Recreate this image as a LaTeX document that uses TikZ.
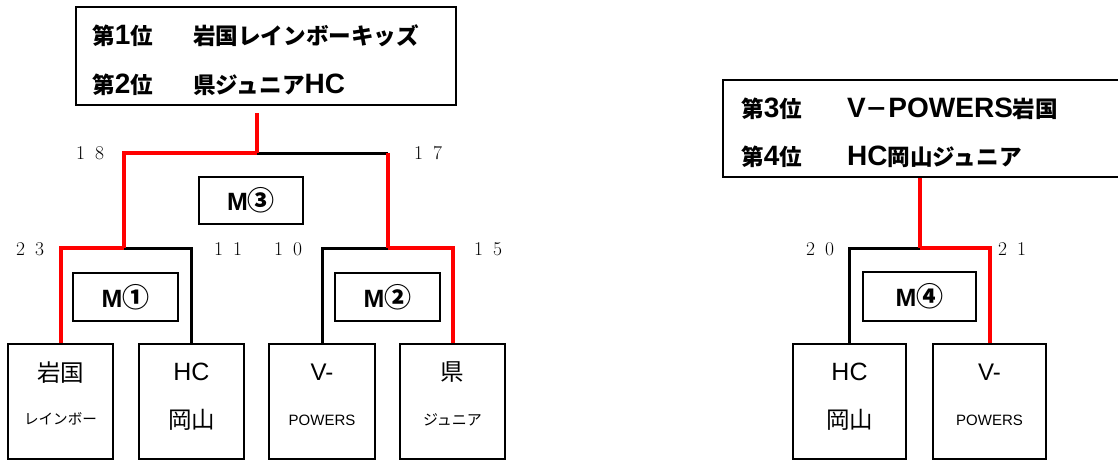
\documentclass[tikz,border=0pt]{standalone}
\usepackage{fontspec}
\newfontfamily\jp{Noto Sans CJK JP}
\newfontfamily\lat{Liberation Sans}
\newcommand\scorenum[2]{\makebox[19pt]{#1}\makebox[19pt]{#2}}
\newcommand\wlat[1]{{\lat\bfseries\fontsize{28}{30}\selectfont #1}}
\newcommand\mlat[1]{{\lat\bfseries\fontsize{25}{28}\selectfont #1}}
\begin{document}
\begin{tikzpicture}[x=1pt,y=-1pt,
  win/.style={line width=4pt,red},
  lose/.style={line width=3pt,black},
  rankbox/.style={draw,line width=2pt,inner sep=0pt},
  matchbox/.style={draw,line width=1.5pt,minimum height=48pt,inner sep=0pt,
    font=\jp\bfseries\fontsize{27}{28}\selectfont},
  teambox/.style={draw,line width=1.5pt,minimum height=115pt,inner sep=0pt},
  ranktext/.style={anchor=west,inner sep=0pt,font=\jp\bfseries\fontsize{22.6}{26}\selectfont},
  big/.style={inner sep=0pt,font=\jp\fontsize{23.5}{26}\selectfont},
  small/.style={inner sep=0pt,font=\jp\fontsize{14.6}{16}\selectfont},
  score/.style={inner sep=0pt,font=\fontsize{19.5}{22}\selectfont}]
  \clip (0,0) rectangle (1118,460);

  % ranking boxes
  \node[rankbox,minimum width=380pt,minimum height=98pt] (rank12) at (266,56) {};
  \node[ranktext] (r1) at (92,36) {\makebox[101pt][l]{第\wlat{1}位}岩国レインボーキッズ};
  \node[ranktext] (r2) at (92,85) {\makebox[101pt][l]{第\wlat{2}位}県ジュニア\wlat{HC}};
  \node[rankbox,minimum width=402pt,minimum height=97pt] (rank34) at (924,128.5) {};
  \node[ranktext] (r3) at (741,108.5) {\makebox[106pt][l]{第\wlat{3}位}\wlat{V}－\wlat{POWERS}岩国};
  \node[ranktext] (r4) at (741,156.5) {\makebox[106pt][l]{第\wlat{4}位}\wlat{HC}岡山ジュニア};

  % teams
  \node[teambox,minimum width=105pt] (t1) at (60.5,401.5) {};
  \node[teambox,minimum width=105pt] (t2) at (191.5,401.5) {};
  \node[teambox,minimum width=106pt] (t3) at (322,401.5) {};
  \node[teambox,minimum width=105pt] (t4) at (452.5,401.5) {};
  \node[teambox,minimum width=113pt] (t5) at (849.5,401.5) {};
  \node[teambox,minimum width=113pt] (t6) at (989.5,401.5) {};

  \node[big] (t1a) at (60.5,372.5) {岩国};
  \node[small] (t1b) at (60.5,418.5) {レインボー};
  \node[big,font=\lat\fontsize{25}{28}\selectfont] (t2a) at (191.5,372) {HC};
  \node[big] (t2b) at (191.5,420) {岡山};
  \node[big,font=\lat\fontsize{24}{28}\selectfont] (t3a) at (322,372) {V-};
  \node[small,font=\lat\fontsize{15}{18}\selectfont] (t3b) at (322,420) {POWERS};
  \node[big] (t4a) at (452.5,372) {県};
  \node[small,font=\jp\fontsize{15}{16}\selectfont] (t4b) at (452.5,420) {ジュニア};
  \node[big,font=\lat\fontsize{25}{28}\selectfont] (t5a) at (849.5,372) {HC};
  \node[big] (t5b) at (849.5,420) {岡山};
  \node[big,font=\lat\fontsize{24}{28}\selectfont] (t6a) at (989.5,372) {V-};
  \node[small,font=\lat\fontsize{15}{18}\selectfont] (t6b) at (989.5,420) {POWERS};

  % matches
  \node[matchbox,minimum width=105pt] (m1) at (125.5,297) {\mlat{M}①};
  \node[matchbox,minimum width=105pt] (m2) at (387.5,297) {\mlat{M}②};
  \node[matchbox,minimum width=104pt,minimum height=47pt] (m3) at (251,200.5) {\mlat{M}③};
  \node[matchbox,minimum width=113pt,minimum height=49pt] (m4) at (919.5,296.5) {\mlat{M}④};

  % bracket lines
  \coordinate (j1) at (124,248);
  \coordinate (j2) at (388,248);
  \coordinate (j3) at (257,153);
  \coordinate (j4) at (920,248);
  \coordinate (top12) at (257,113);

  \draw[win] (t1.north) |- (j1);
  \draw[lose] (t2.north) |- (j1);
  \draw[lose] (t3.north) |- (j2);
  \draw[win] (t4.north) |- (j2);
  \draw[win] (j1) |- (j3);
  \draw[lose] (j3) -- (j3 -| j2);
  \draw[win] (j3 -| j2) -- (j2);
  \draw[win] (j3) -- (top12);
  \draw[lose] (t5.north) |- (j4);
  \draw[win] (t6.north) |- (j4);
  \draw[win] (j4) -- (j4 |- rank34.south);

  % scores
  \node[score] (s18) at (90,153) {\scorenum{1}{8}};
  \node[score] (s17) at (428,153) {\scorenum{1}{7}};
  \node[score] (s23) at (30,249) {\scorenum{2}{3}};
  \node[score] (s11) at (228,249) {\scorenum{1}{1}};
  \node[score] (s10) at (288,249) {\scorenum{1}{0}};
  \node[score] (s15) at (488,249) {\scorenum{1}{5}};
  \node[score] (s20) at (820,249) {\scorenum{2}{0}};
  \node[score] (s21) at (1012,249) {\scorenum{2}{1}};
\end{tikzpicture}
\end{document}
